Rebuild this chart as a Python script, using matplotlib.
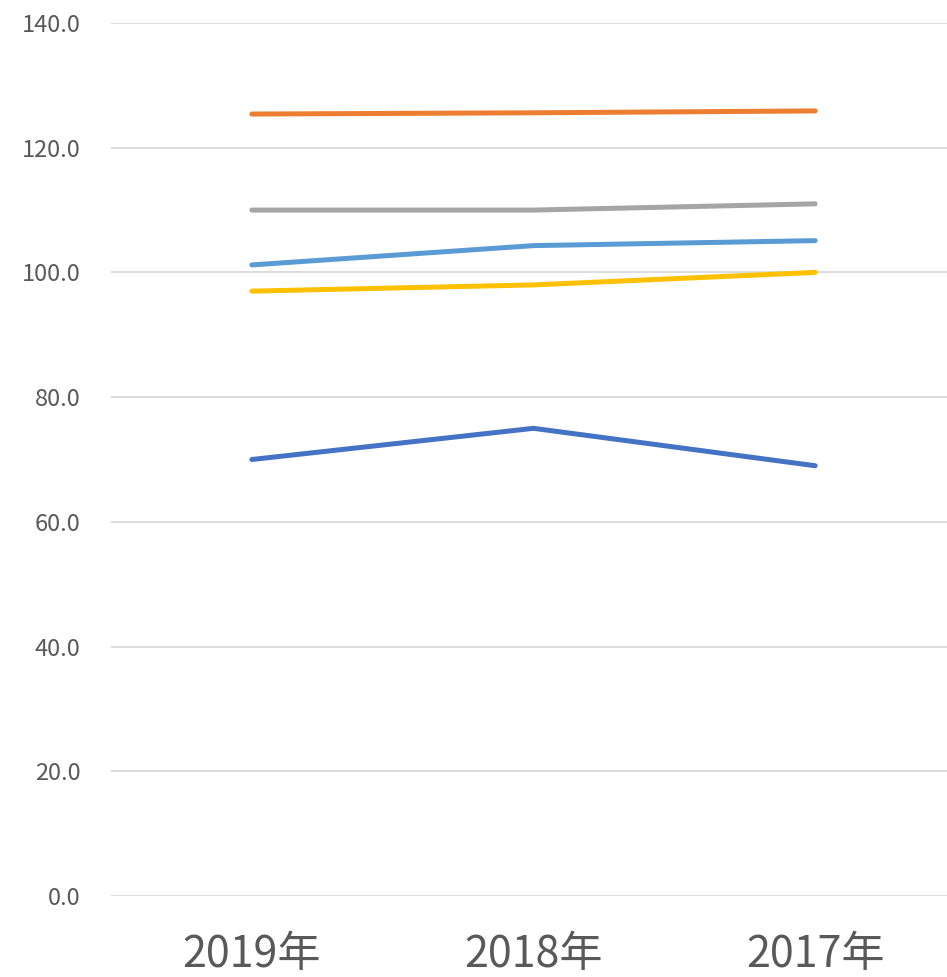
import matplotlib.pyplot as plt
import numpy as np

plt.rcParams['font.family'] = ['Noto Sans CJK JP', 'DejaVu Sans']

# Data
years = ["2019年", "2018年", "2017年"]
series_blue = [70.0, 75.0, 69.0]
series_orange = [125.4, 125.6, 125.9]
series_gray = [110.0, 110.0, 111.0]
series_yellow = [97.0, 98.0, 100.0]
series_lightblue = [101.2, 104.3, 105.1]

colors = ["#4472C4", "#ED7D31", "#A5A5A5", "#FFC000", "#5B9BD5"]
all_series = [series_blue, series_orange, series_gray, series_yellow, series_lightblue]

fig = plt.figure(figsize=(9.47, 9.77), dpi=100)
ax = fig.add_axes([111 / 947, 81 / 977, 845 / 947, 873 / 977])

x = np.arange(len(years))
for vals, c in zip(all_series, colors):
    ax.plot(x, vals, color=c, linewidth=3.6, solid_capstyle="round", zorder=3)

ax.set_xlim(-0.5, len(years) - 0.5)
ax.set_ylim(0, 140)
ax.set_yticks(np.arange(0, 141, 20))
ax.set_yticklabels([f"{v:.1f}" for v in np.arange(0, 141, 20)])
ax.set_xticks(x)
ax.set_xticklabels(years)

ax.grid(axis="y", color="#D9D9D9", linewidth=1.3, zorder=0)
for s in ax.spines.values():
    s.set_visible(False)
ax.tick_params(axis="y", length=0, pad=22, labelsize=17, labelcolor="#595959")
ax.tick_params(axis="x", length=0, pad=27, labelsize=31, labelcolor="#595959")

fig.savefig("out.png", dpi=100)
